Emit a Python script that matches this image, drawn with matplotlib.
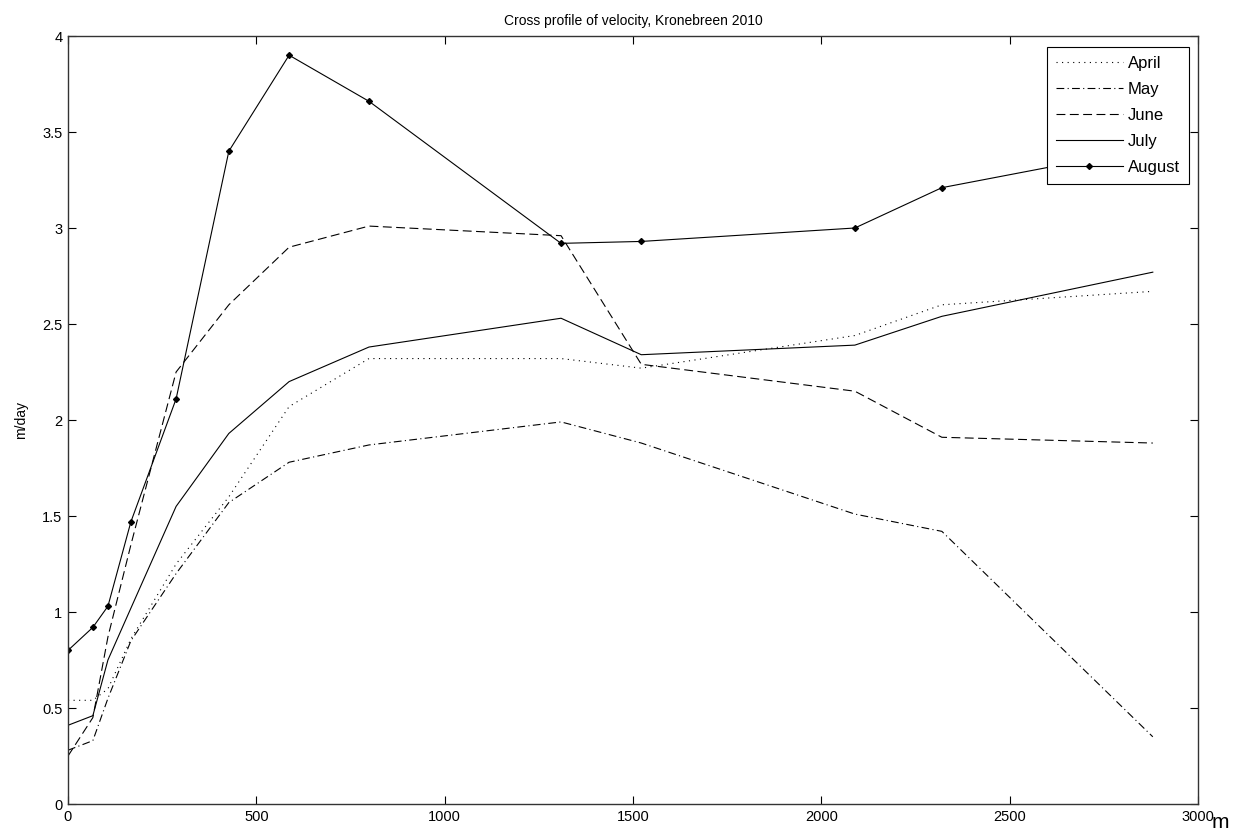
import matplotlib
matplotlib.use("Agg")
import matplotlib.pyplot as plt

plt.rcParams['font.family'] = ['Liberation Sans', 'DejaVu Sans']

distance = [0, 66, 106, 167, 287, 427, 587, 799, 1309, 1522, 2089, 2320, 2880]
april = [0.54, 0.54, 0.60, 0.86, 1.25, 1.60, 2.07, 2.32, 2.32, 2.27, 2.44, 2.60, 2.67]
may = [0.28, 0.33, 0.55, 0.85, 1.20, 1.57, 1.78, 1.87, 1.99, 1.88, 1.51, 1.42, 0.35]
june = [0.25, 0.45, 0.87, 1.35, 2.25, 2.60, 2.90, 3.01, 2.96, 2.29, 2.15, 1.91, 1.88]
july = [0.41, 0.46, 0.75, 1.02, 1.55, 1.93, 2.20, 2.38, 2.53, 2.34, 2.39, 2.54, 2.77]
august = [0.80, 0.92, 1.03, 1.47, 2.11, 3.40, 3.90, 3.66, 2.92, 2.93, 3.00, 3.21, 3.42]
labels = ["April", "May", "June", "July", "August"]
xticks = [0, 500, 1000, 1500, 2000, 2500, 3000]
yticks = [0, 0.5, 1, 1.5, 2, 2.5, 3, 3.5, 4]

fig = plt.figure(figsize=(12.52, 8.35), dpi=100)
ax = fig.add_axes([68/1252, 1-804/835, (1198-68)/1252, (804-36)/835])

lw = 0.8
ax.plot(distance, april, color='k', lw=lw, linestyle=(0, (1, 4)), label=labels[0])
ax.plot(distance, may, color='k', lw=lw, linestyle=(0, (7, 3, 1, 3)), label=labels[1])
ax.plot(distance, june, color='k', lw=lw, linestyle=(0, (8, 4)), label=labels[2])
ax.plot(distance, july, color='k', lw=lw, linestyle='-', label=labels[3])
ax.plot(distance, august, color='k', lw=lw, linestyle='-', marker='D', markersize=3,
        markerfacecolor='k', label=labels[4])

ax.set_xlim(0, 3000)
ax.set_ylim(0, 4)
ax.set_xticks(xticks)
ax.set_yticks(yticks)
ax.set_xticklabels([str(t) for t in xticks])
ax.set_yticklabels(["0", "0.5", "1", "1.5", "2", "2.5", "3", "3.5", "4"])
ax.tick_params(direction='in', top=True, right=True, length=6, width=0.8,
               labelsize=10.5, pad=4)
for s in ax.spines.values():
    s.set_linewidth(1.0)
    s.set_color('#333333')

ax.set_title("Cross profile of velocity, Kronebreen 2010", fontsize=10, pad=8)
ax.set_ylabel("m/day", fontsize=10, labelpad=10)
fig.text(1212/1252, 1-822/835, "m", fontsize=15, ha='left', va='center')

leg = ax.legend(loc='upper right', fontsize=12, frameon=True, fancybox=False,
                edgecolor='k', handlelength=4.0, handletextpad=0.3, borderpad=0.55,
                labelspacing=0.66, borderaxespad=0,
                bbox_to_anchor=(1189/1252, 1-47/835), bbox_transform=fig.transFigure)
leg.get_frame().set_linewidth(0.8)
leg.get_frame().set_alpha(1.0)

fig.savefig("out.png", dpi=100)
